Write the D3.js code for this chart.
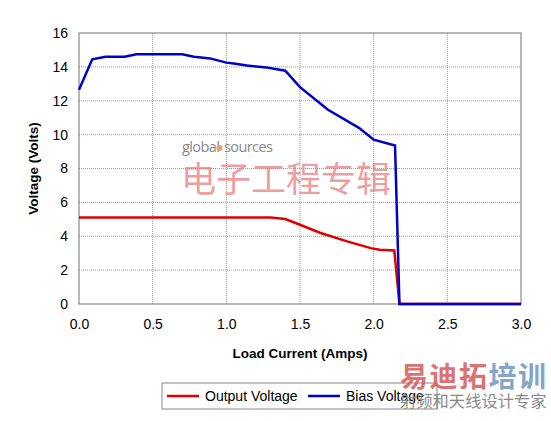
<!DOCTYPE html>
<html>
<head>
<meta charset="utf-8">
<script src="https://cdn.jsdelivr.net/npm/d3@7"></script>
<style>
  body { margin: 0; background: #fff; }
  svg { font-family: 'Liberation Sans', Arial, sans-serif; }
</style>
</head>
<body>
<svg width="551" height="421"></svg>
<script>
// values
const biasAmps = [0, 0.09, 0.18, 0.31, 0.39, 0.5, 0.7, 0.78, 0.89, 1.0, 1.05, 1.14, 1.27, 1.4, 1.5, 1.69, 1.9, 2.0, 2.145, 2.175, 3.0]
const biasVolts = [12.65, 14.45, 14.6, 14.6, 14.75, 14.75, 14.75, 14.6, 14.5, 14.25, 14.2, 14.08, 13.97, 13.77, 12.8, 11.47, 10.4, 9.7, 9.36, 0, 0]
const outAmps = [0, 0.5, 1.0, 1.3, 1.4, 1.5, 1.64, 1.82, 1.98, 2.04, 2.14, 2.175, 3.0]
const outVolts = [5.1, 5.1, 5.1, 5.1, 5.02, 4.68, 4.19, 3.7, 3.3, 3.2, 3.16, 0, 0]
const xTicks = [0, 0.5, 1.0, 1.5, 2.0, 2.5, 3.0]
const yTicks = [0, 2, 4, 6, 8, 10, 12, 14, 16]

let svg = d3.select('svg')
let margin = { top: 33, right: 30, bottom: 117, left: 79 }
let width = +svg.attr('width') - margin.left - margin.right
let height = +svg.attr('height') - margin.top - margin.bottom

let x = d3.scaleLinear().domain([0, 3]).range([0, width])
let y = d3.scaleLinear().domain([0, 16]).range([height, 0])

let g = svg.append('g')
  .attr('transform', 'translate(' + margin.left + ',' + margin.top + ')')

// grid
g.append('g')
  .selectAll('line')
  .data(xTicks.slice(1, -1))
  .enter()
  .append('line')
  .attr('x1', d => x(d)).attr('x2', d => x(d))
  .attr('y1', 0).attr('y2', height)
  .attr('stroke', '#999').attr('stroke-dasharray', '1,1')

g.append('g')
  .selectAll('line')
  .data(yTicks.slice(1, -1))
  .enter()
  .append('line')
  .attr('x1', 0).attr('x2', width)
  .attr('y1', d => y(d)).attr('y2', d => y(d))
  .attr('stroke', '#999').attr('stroke-dasharray', '1,1')

// axes
let xAxis = g.append('g')
  .attr('transform', 'translate(0,' + height + ')')
  .call(d3.axisBottom(x).tickValues(xTicks).tickFormat(d3.format('.1f')).tickSize(0).tickPadding(15))
let yAxis = g.append('g')
  .call(d3.axisLeft(y).tickValues(yTicks).tickSize(0).tickPadding(11))
;[xAxis, yAxis].forEach(a => {
  a.select('.domain').remove()
  a.selectAll('text').attr('font-size', 14).attr('fill', '#000')
    .attr('font-family', "'Liberation Sans', Arial, sans-serif")
})

g.append('rect')
  .attr('width', width).attr('height', height)
  .attr('fill', 'none').attr('stroke', '#888').attr('stroke-width', 1.2)

svg.append('text')
  .attr('transform', 'translate(38,' + (margin.top + height / 2) + ') rotate(-90)')
  .attr('text-anchor', 'middle')
  .attr('font-weight', 'bold').attr('font-size', 13.5)
  .text('Voltage (Volts)')

svg.append('text')
  .attr('x', margin.left + width / 2).attr('y', 358)
  .attr('text-anchor', 'middle')
  .attr('font-weight', 'bold').attr('font-size', 13.5)
  .text('Load Current (Amps)')

// watermark
let wm = svg.append('g').attr('pointer-events', 'none')
wm.append('text')
  .attr('x', 182).attr('y', 152)
  .attr('font-family', 'Open Sans, sans-serif').attr('font-size', 14.5)
  .attr('fill', '#8a8a8a').attr('letter-spacing', -0.6)
  .text('global')
wm.append('circle').attr('cx', 219.5).attr('cy', 148).attr('r', 3).attr('fill', '#e8a070')
wm.append('text')
  .attr('x', 224).attr('y', 152)
  .attr('font-family', 'Open Sans, sans-serif').attr('font-size', 14.5)
  .attr('fill', '#8a8a8a').attr('letter-spacing', -0.6)
  .text('sources')
wm.append('text')
  .attr('x', 181).attr('y', 192)
  .attr('font-family', 'Noto Sans CJK SC').attr('font-size', 35)
  .attr('fill', '#e88080').attr('opacity', 0.75)
  .text('电子工程专辑')

let line = d3.line().x(d => x(d[0])).y(d => y(d[1]))

g.append('path')
  .datum(outAmps.map((a, i) => [a, outVolts[i]]))
  .attr('d', line)
  .attr('fill', 'none').attr('stroke', '#e00000').attr('stroke-width', 2.5)

g.append('path')
  .datum(biasAmps.map((a, i) => [a, biasVolts[i]]))
  .attr('d', line)
  .attr('fill', 'none').attr('stroke', '#0000cc').attr('stroke-width', 2.5)

// legend
let lg = svg.append('g').attr('transform', 'translate(162,383)')
lg.append('rect').attr('width', 275).attr('height', 26)
  .attr('fill', '#fff').attr('stroke', '#888')
let items = [['Output Voltage', '#e00000', 5], ['Bias Voltage', '#0000cc', 146]]
items.forEach(it => {
  lg.append('line').attr('x1', it[2]).attr('x2', it[2] + 32)
    .attr('y1', 13).attr('y2', 13)
    .attr('stroke', it[1]).attr('stroke-width', 2.5)
  lg.append('text').attr('x', it[2] + 38).attr('y', 18)
    .attr('font-size', 14).text(it[0])
})

// corner watermark
let cw = svg.append('g')
let chars = [['易', '#d85a5a'], ['迪', '#d85a5a'], ['拓', '#d85a5a'], ['培', '#6f95c0'], ['训', '#6f95c0']]
chars.forEach((c, i) => {
  cw.append('text').attr('x', 400 + i * 29.5).attr('y', 387)
    .attr('font-family', 'Noto Sans CJK SC').attr('font-weight', 'bold')
    .attr('font-size', 28).attr('fill', c[1]).attr('opacity', 0.85)
    .text(c[0])
})
cw.append('text').attr('x', 400).attr('y', 407)
  .attr('font-family', 'Noto Sans CJK SC').attr('font-size', 16.3)
  .attr('fill', '#8a8a8a')
  .text('射频和天线设计专家')
</script>
</body>
</html>
